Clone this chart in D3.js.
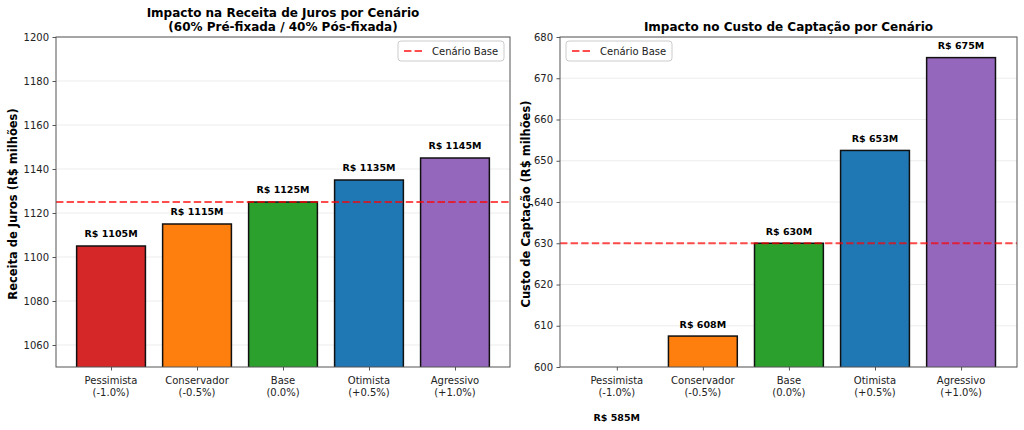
<!DOCTYPE html>
<html><head><meta charset="utf-8">
<script src="https://cdn.jsdelivr.net/npm/d3@7"></script>
<style>body{margin:0;background:#fff;} svg{font-family:"DejaVu Sans",sans-serif;}</style>
</head><body><svg id="c" width="1024" height="430"></svg>
<script>
const categories = ["Pessimista", "Conservador", "Base", "Otimista", "Agressivo"];
const shocks = ["(-1.0%)", "(-0.5%)", "(0.0%)", "(+0.5%)", "(+1.0%)"];
const receita = [1105, 1115, 1125, 1135, 1145];
const custo = [585, 607.5, 630, 652.5, 675];
const receitaTicks = [1060, 1080, 1100, 1120, 1140, 1160, 1180, 1200];
const custoTicks = [600, 610, 620, 630, 640, 650, 660, 670, 680];
const colors = ["#d62728", "#ff7f0e", "#2ca02c", "#1f77b4", "#9467bd"];
const baseReceita = 1125, baseCusto = 630;

const svg = d3.select("#c");

function panel(opt) {
  const {x0, x1, y0, y1, domain, ticks, values, base, xdom, titleLines, ylabel, ylabelX, legendLeft, labelOffset} = opt;
  const g = svg.append("g");
  const x = d3.scaleLinear().domain(xdom).range([x0, x1]);
  const y = d3.scaleLinear().domain(domain).range([y1, y0]);
  const defs = svg.append("defs");
  const cid = "clip" + x0;
  defs.append("clipPath").attr("id", cid).append("rect").attr("x", x0).attr("y", y0).attr("width", x1 - x0).attr("height", y1 - y0);

  // grid
  g.append("g").selectAll("line").data(ticks).join("line")
    .attr("x1", x0).attr("x2", x1).attr("y1", d => y(d)).attr("y2", d => y(d))
    .attr("stroke", "#b0b0b0").attr("stroke-opacity", 0.3).attr("stroke-width", 0.8);

  // bars
  const bw = 0.8;
  g.append("g").attr("clip-path", `url(#${cid})`).selectAll("rect").data(values).join("rect")
    .attr("x", (d, i) => x(i - bw / 2)).attr("width", x(bw) - x(0))
    .attr("y", d => y(d)).attr("height", d => Math.max(0, y(domain[0]) - y(d) + 5))
    .attr("fill", (d, i) => colors[i]).attr("fill-opacity", 1)
    .attr("stroke", "#111").attr("stroke-width", 1.5);

  // base line
  g.append("line").attr("x1", x0).attr("x2", x1).attr("y1", y(base)).attr("y2", y(base))
    .attr("stroke", "#ff0000").attr("stroke-opacity", 0.7).attr("stroke-width", 2).attr("stroke-dasharray", "7.4,3.2");

  // value labels
  g.append("g").selectAll("text").data(values).join("text")
    .attr("x", (d, i) => x(i)).attr("y", d => y(d + labelOffset))
    .attr("text-anchor", "middle").attr("font-size", 9.5).attr("font-weight", "bold").attr("fill", "#000")
    .text(d => "R$ " + Math.round(d) + "M");

  // frame
  g.append("rect").attr("x", x0).attr("y", y0).attr("width", x1 - x0).attr("height", y1 - y0)
    .attr("fill", "none").attr("stroke", "#555").attr("stroke-width", 1);

  // y axis
  const ya = g.append("g").attr("transform", `translate(${x0},0)`)
    .call(d3.axisLeft(y).tickValues(ticks).tickSize(3.5).tickPadding(3.5).tickFormat(d3.format("d")));
  ya.select(".domain").remove();
  ya.selectAll("line").attr("stroke", "#555");
  ya.selectAll("text").attr("font-size", 10).attr("fill", "#222").attr("font-family", "DejaVu Sans");

  // x axis
  const xa = g.append("g").attr("transform", `translate(0,${y1})`)
    .call(d3.axisBottom(x).tickValues(d3.range(categories.length)).tickSize(3.5).tickFormat(""));
  xa.select(".domain").remove();
  xa.selectAll("line").attr("stroke", "#555");
  const xl = g.append("g").selectAll("text").data(categories).join("text")
    .attr("x", (d, i) => x(i)).attr("y", y1 + 17)
    .attr("text-anchor", "middle").attr("font-size", 10).attr("fill", "#222");
  xl.append("tspan").attr("x", (d, i) => x(i)).attr("dy", 0).text(d => d);
  xl.append("tspan").attr("x", (d, i) => x(i)).attr("dy", 12).text((d, i) => shocks[i]);

  // title
  const cx = (x0 + x1) / 2;
  titleLines.forEach((t, k) => {
    g.append("text").attr("x", cx).attr("y", y0 - 6 - (titleLines.length - 1 - k) * 14)
      .attr("text-anchor", "middle").attr("font-size", 12).attr("font-weight", "bold").attr("fill", "#000").text(t);
  });

  // y label
  g.append("text").attr("transform", `translate(${ylabelX},${(y0 + y1) / 2 + 2}) rotate(-90)`)
    .attr("text-anchor", "middle").attr("font-size", 11.5).attr("font-weight", "bold").attr("fill", "#000").text(ylabel);

  // legend
  const lw = 106, lh = 20;
  const lx = legendLeft ? x0 + 6 : x1 - 6 - lw, ly = y0 + 4;
  g.append("rect").attr("x", lx).attr("y", ly).attr("width", lw).attr("height", lh).attr("rx", 3)
    .attr("fill", "#fff").attr("fill-opacity", 0.8).attr("stroke", "#ccc").attr("stroke-width", 1);
  g.append("line").attr("x1", lx + 6).attr("x2", lx + 26).attr("y1", ly + lh / 2).attr("y2", ly + lh / 2)
    .attr("stroke", "#ff0000").attr("stroke-opacity", 0.7).attr("stroke-width", 2).attr("stroke-dasharray", "7.4,3.2");
  g.append("text").attr("x", lx + 34).attr("y", ly + lh / 2 + 3.5).attr("font-size", 10).attr("fill", "#222").text("Cenário Base");
}

panel({x0: 56, x1: 510, y0: 37, y1: 367, domain: [1050, 1200], ticks: receitaTicks, values: receita, base: baseReceita,
  xdom: [-0.64, 4.64], titleLines: ["Impacto na Receita de Juros por Cenário", "(60% Pré-fixada / 40% Pós-fixada)"],
  ylabel: "Receita de Juros (R$ milhões)", ylabelX: 17, legendLeft: false, labelOffset: 4});
panel({x0: 560, x1: 1017, y0: 37, y1: 367, domain: [600, 680], ticks: custoTicks, values: custo, base: baseCusto,
  xdom: [-0.66, 4.65], titleLines: ["Impacto no Custo de Captação por Cenário"],
  ylabel: "Custo de Captação (R$ milhões)", ylabelX: 530, legendLeft: true, labelOffset: 2});
</script></body></html>
